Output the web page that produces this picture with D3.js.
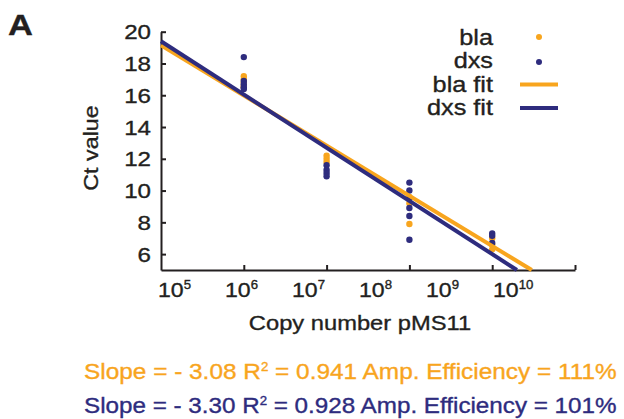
<!DOCTYPE html>
<html>
<head>
<meta charset="utf-8">
<script src="https://cdn.jsdelivr.net/npm/d3@7"></script>
<style>
    body { margin: 0; background: #fff; }
    text { font-family: "Liberation Sans", Arial, sans-serif; fill: #231F20; stroke: #231F20; stroke-width: 0.35px; }
</style>
</head>
<body>
<svg id="chart" width="624" height="419"></svg>
<script>
// log10(copy number) of each dilution
var dilutions = [6, 7, 8, 9];
var blaCt = [[17.2, 17.0, 16.8, 16.6, 16.5], [12.2, 12.0, 11.8], [9.6, 9.2, 7.9], [7.0, 6.6, 6.3]];
var dxsCt = [[18.4, 16.9, 16.7, 16.5, 16.4], [11.6, 11.3, 11.1, 10.9], [10.5, 10.0, 9.5, 8.9, 8.4, 6.9], [7.3, 7.15, 6.7]];
var yTicks = [6, 8, 10, 12, 14, 16, 18, 20];
var xTicks = [6, 7, 8, 9, 10];
var xLabelExp = [5, 6, 7, 8, 9, 10];
// fit lines: [Ct at 10^5, slope per decade]
var blaFit = [19.15, -3.16];
var dxsFit = [19.4, -3.35];
var seriesNames = ["bla", "dxs"];
var slopes = ["3.08", "3.30"];
var rSquared = ["0.941", "0.928"];
var efficiency = ["111%", "101%"];

var orange = "#F8A51E", navy = "#2E2C7E", ink = "#231F20";

var svg = d3.select("#chart");
var x = d3.scaleLinear().domain([5, 10]).range([161, 575]);
var y = d3.scaleLinear().domain([5, 20]).range([270, 31.7]);
var labelX = d3.scaleLinear().domain([5, 10]).range([158, 493]);

// the figure text is a bit wider than plain Arial
function stretch(sel, k) {
    sel.attr("transform", function () {
        return (d3.select(this).attr("transform") || "") + " scale(" + k + ",1)";
    });
}

svg.append("text").attr("transform", "translate(8,35)")
    .style("font-size", "30px").style("font-weight", "bold").text("A")
    .call(stretch, 1.15);

// axes
var yAxis = svg.append("g").attr("transform", "translate(161,0)")
    .call(d3.axisLeft(y).tickValues(yTicks).tickSize(-5).tickSizeOuter(0).tickFormat(""));
var xAxis = svg.append("g").attr("transform", "translate(0,270)")
    .call(d3.axisBottom(x).tickValues(xTicks).tickSize(-5).tickSizeOuter(0).tickFormat(""));
svg.selectAll(".domain, .tick line").attr("stroke", ink).attr("stroke-width", 2);

svg.append("g").selectAll("text").data(yTicks).enter().append("text")
    .attr("transform", function (d) { return "translate(151," + (y(d) + 7.5) + ")"; })
    .attr("text-anchor", "end").style("font-size", "21px")
    .text(function (d) { return d; })
    .call(stretch, 1.15);

var xl = svg.append("g").selectAll("text").data(xLabelExp).enter().append("text")
    .attr("transform", function (d) { return "translate(" + labelX(d) + ",297)"; })
    .style("font-size", "21px");
xl.append("tspan").text("10");
xl.append("tspan").attr("dy", -8).style("font-size", "12px").text(function (d) { return d; });
xl.call(stretch, 1.1);

svg.append("text").attr("transform", "translate(98,148) rotate(-90)")
    .attr("text-anchor", "middle").style("font-size", "21px").text("Ct value")
    .call(stretch, 1.11);
svg.append("text").attr("transform", "translate(360,330)")
    .attr("text-anchor", "middle").style("font-size", "21px").text("Copy number pMS11")
    .call(stretch, 1.13);

// points
function drawPoints(values, color) {
    var pts = [];
    values.forEach(function (col, i) {
        col.forEach(function (v) { pts.push([dilutions[i], v]); });
    });
    svg.append("g").selectAll("circle").data(pts).enter().append("circle")
        .attr("cx", function (d) { return x(d[0]); })
        .attr("cy", function (d) { return y(d[1]); })
        .attr("r", 3.2).attr("fill", color);
}
drawPoints(blaCt, orange);
drawPoints(dxsCt, navy);

// fit lines, from 10^5 down to Ct 5
var line = d3.line().x(function (d) { return x(d[0]); }).y(function (d) { return y(d[1]); });
function drawFit(fit, color) {
    var end = 5 + (5 - fit[0]) / fit[1];
    svg.append("path").datum([[5, fit[0]], [end, 5]])
        .attr("d", line).attr("fill", "none").attr("stroke", color).attr("stroke-width", 4);
}
drawFit(blaFit, orange);
drawFit(dxsFit, navy);

// legend
var legendRows = [seriesNames[0], seriesNames[1], seriesNames[0] + " fit", seriesNames[1] + " fit"];
var legendColors = [orange, navy, orange, navy];
var lg = svg.append("g").selectAll("g").data(legendRows).enter().append("g")
    .attr("transform", function (d, i) { return "translate(0," + (i * 23.3) + ")"; });
lg.append("text").attr("transform", "translate(493,45)").attr("text-anchor", "end")
    .style("font-size", "22px").text(function (d) { return d; })
    .call(stretch, 1.15);
lg.filter(function (d, i) { return i < 2; }).append("circle")
    .attr("cx", 539).attr("cy", function (d, i) { return 37 + i * 1.7; }).attr("r", 3)
    .attr("fill", function (d, i) { return legendColors[i]; });
lg.filter(function (d, i) { return i >= 2; }).append("line")
    .attr("x1", 520).attr("x2", 558).attr("y1", 38).attr("y2", 38)
    .attr("stroke-width", 4)
    .attr("stroke", function (d, i) { return legendColors[i + 2]; });

// fit statistics
[0, 1].forEach(function (i) {
    var color = i === 0 ? orange : navy;
    var t = svg.append("text").attr("transform", "translate(84," + (379 + i * 34) + ")")
        .style("font-size", "22px").style("fill", color).style("stroke", color);
    t.append("tspan").text("Slope = - " + slopes[i] + " R");
    t.append("tspan").attr("dy", -8).style("font-size", "12px").text("2");
    t.append("tspan").attr("dy", 8).text(" = " + rSquared[i] + " Amp. Efficiency = " + efficiency[i]);
    var w = t.node().getComputedTextLength();
    t.call(stretch, 533 / w);
});
</script>
</body>
</html>
